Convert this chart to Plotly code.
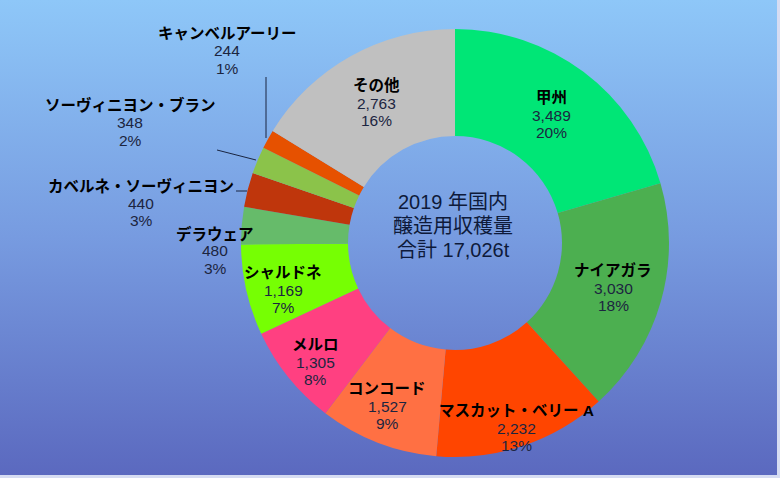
import base64

import plotly.graph_objects as go

W, H = 780, 478

VARIETIES = [
    "甲州",
    "ナイアガラ",
    "マスカット・ベリー A",
    "コンコード",
    "メルロ",
    "シャルドネ",
    "デラウェア",
    "カベルネ・ソーヴィニヨン",
    "ソーヴィニヨン・ブラン",
    "キャンベルアーリー",
    "その他",
]
HARVEST_T = [3489, 3030, 2232, 1527, 1305, 1169, 480, 440, 348, 244, 2763]
CENTER_LINES = ["2019 年国内", "醸造用収穫量", "合計 17,026t"]

COLORS = [
    "#00e676",
    "#4caf50",
    "#ff4500",
    "#ff7043",
    "#ff4081",
    "#76ff03",
    "#66bb6a",
    "#bf360c",
    "#8bc34a",
    "#e65100",
    "#c0c0c0",
]

# label block centres in pixels (middle line of each 3-line label)
LABEL_POS = [
    (551, 115),
    (613, 288),
    (516, 428),
    (387, 406),
    (315, 362),
    (283, 290),
    (215, 251),
    (141, 203),
    (130, 123),
    (227, 51),
    (376, 103),
]
LINE_GAP = 17.5

# leader lines for the small outside labels (pixels)
LEADERS = [
    ((266, 77), (266, 138)),
    ((217, 150), (256, 160)),
    ((236, 191), (247, 191)),
]

FONT = "Liberation Sans, Noto Sans CJK JP, sans-serif"
TEXT_COLOR = "#1c2540"


def px(x):
    return x / W


def py(y):
    return 1 - y / H


def note(x, y, text, size, color, bold=False):
    return dict(
        x=px(x),
        y=py(y),
        xref="paper",
        yref="paper",
        xanchor="center",
        yanchor="middle",
        showarrow=False,
        text=f"<b>{text}</b>" if bold else text,
        font={"family": FONT, "size": size, "color": color},
    )


svg = (
    f'<svg xmlns="http://www.w3.org/2000/svg" width="{W}" height="{H}">'
    '<defs><linearGradient id="g" x1="0" y1="0" x2="0" y2="1">'
    '<stop offset="0" stop-color="#8ec7f8"/>'
    '<stop offset="0.5" stop-color="#779be0"/>'
    '<stop offset="1" stop-color="#5b69bf"/>'
    "</linearGradient></defs>"
    f'<rect width="{W}" height="{H}" fill="url(#g)"/></svg>'
)
bg_uri = "data:image/svg+xml;base64," + base64.b64encode(svg.encode()).decode()

total = sum(HARVEST_T)

fig = go.Figure(
    go.Pie(
        labels=VARIETIES,
        values=HARVEST_T,
        hole=0.5,
        sort=False,
        direction="clockwise",
        rotation=0,
        textinfo="none",
        marker={"colors": COLORS, "line": {"width": 0}},
        domain={"x": [px(241), px(669)], "y": [py(457), py(29)]},
        showlegend=False,
    )
)

annotations = []
for name, val, (x, y) in zip(VARIETIES, HARVEST_T, LABEL_POS):
    pct = round(val / total * 100)
    annotations.append(note(x, y - LINE_GAP, name, 15.5, "#000", bold=True))
    annotations.append(note(x, y, f"{val:,}", 15.5, TEXT_COLOR))
    annotations.append(note(x, y + LINE_GAP, f"{pct}%", 15.5, TEXT_COLOR))

for i, line in enumerate(CENTER_LINES):
    annotations.append(note(453, 202 + 24 * i, line, 20, "#0e1a3a"))

shapes = [
    dict(
        type="line",
        xref="paper",
        yref="paper",
        x0=px(a[0]),
        y0=py(a[1]),
        x1=px(b[0]),
        y1=py(b[1]),
        line={"color": "#1a2540", "width": 1},
    )
    for a, b in LEADERS
]

fig.update_layout(
    width=W,
    height=H,
    margin={"l": 0, "r": 0, "t": 0, "b": 0},
    paper_bgcolor="#d6dcf2",
    plot_bgcolor="rgba(0,0,0,0)",
    images=[
        dict(
            source=bg_uri,
            xref="paper",
            yref="paper",
            x=0,
            y=1,
            sizex=777 / W,
            sizey=475 / H,
            sizing="stretch",
            xanchor="left",
            yanchor="top",
            layer="below",
        )
    ],
    annotations=annotations,
    shapes=shapes,
    font={"family": FONT},
)

# drop the default page margin so the figure sits at the window origin
fig.write_html(
    "out.html",
    config={"displayModeBar": False},
    post_script="document.body.style.margin='0';document.body.style.overflow='hidden';",
)
